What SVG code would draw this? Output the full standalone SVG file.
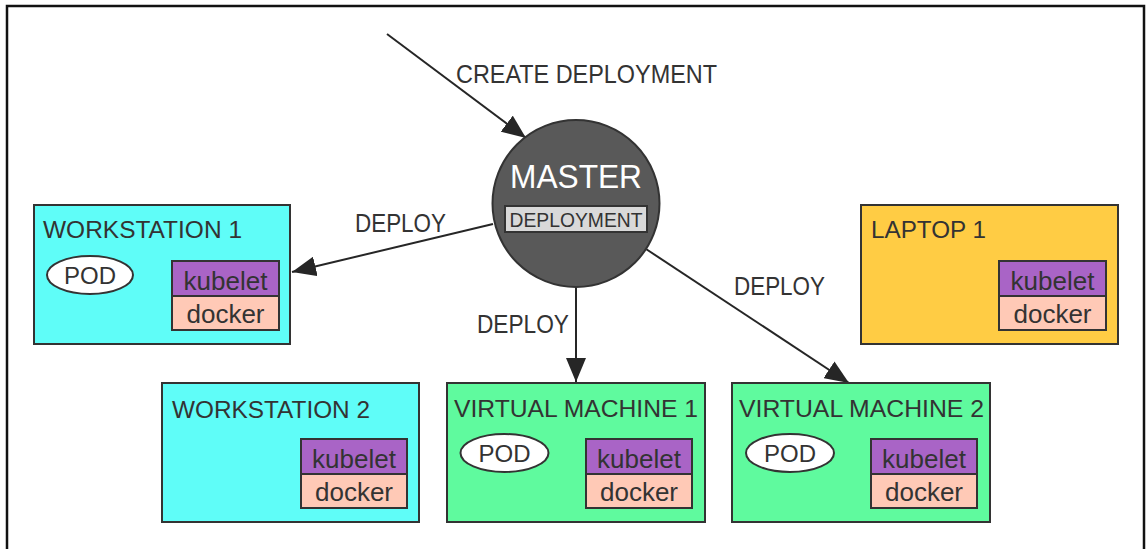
<svg xmlns="http://www.w3.org/2000/svg" width="1147" height="549" viewBox="0 0 1147 549">
  <defs>
    <marker id="arrow" markerUnits="userSpaceOnUse" viewBox="0 0 24 20" refX="24" refY="10" markerWidth="24" markerHeight="20" orient="auto">
      <path d="M0,0 L24,10 L0,20 Z" fill="#262626"/>
    </marker>
    <style>
      .t { font-family: "Liberation Sans", Arial, sans-serif; fill: #333333; }
      .title { font-size: 24px; }
      .lbl { font-size: 25px; }
      .box { stroke: #333333; stroke-width: 2; }
      .ws { fill: #5ffdf8; }
      .vm { fill: #5ffa9e; }
      .lap { fill: #ffcc44; }
      .kub { fill: #a964c6; stroke: #333333; stroke-width: 2; }
      .dock { fill: #ffc9b6; stroke: #333333; stroke-width: 2; }
      .pod { fill: #ffffff; stroke: #333333; stroke-width: 2; }
      .mid { font-size: 26px; text-anchor: middle; }
      .podt { font-size: 24px; text-anchor: middle; }
      .conn { stroke: #262626; stroke-width: 2; fill: none; marker-end: url(#arrow); }
    </style>
  </defs>
  <rect width="1147" height="549" fill="#ffffff"/>
  <path d="M7,549 L7,6 L1144,6 L1144,549" fill="none" stroke="#111111" stroke-width="2.5"/>

  <g id="connectors">
    <line class="conn" x1="387" y1="34" x2="526" y2="138"/>
    <line class="conn" x1="493" y1="224" x2="292" y2="272"/>
    <line class="conn" x1="576" y1="287" x2="576" y2="382"/>
    <line class="conn" x1="646" y1="249" x2="849" y2="383"/>
    <text class="t lbl" x="456" y="83" textLength="261" lengthAdjust="spacingAndGlyphs">CREATE DEPLOYMENT</text>
    <text class="t lbl" x="355" y="232" textLength="91" lengthAdjust="spacingAndGlyphs">DEPLOY</text>
    <text class="t lbl" x="477" y="333" textLength="92" lengthAdjust="spacingAndGlyphs">DEPLOY</text>
    <text class="t lbl" x="734" y="295" textLength="91" lengthAdjust="spacingAndGlyphs">DEPLOY</text>
  </g>

  <g id="master">
    <circle cx="576" cy="203.5" r="83.5" fill="#595959" stroke="#333333" stroke-width="2"/>
    <text x="576" y="188" font-family="Liberation Sans, Arial, sans-serif" font-size="33" fill="#ffffff" text-anchor="middle" textLength="132" lengthAdjust="spacingAndGlyphs">MASTER</text>
    <rect x="505" y="206" width="142" height="26" fill="#d9d9d9" stroke="#333333" stroke-width="2"/>
    <text class="t" x="576" y="227" font-size="21" text-anchor="middle" textLength="133" lengthAdjust="spacingAndGlyphs">DEPLOYMENT</text>
  </g>

  <g id="workstation1">
    <rect class="box ws" x="34" y="205" width="256" height="139"/>
    <text class="t title" x="43" y="238" textLength="199" lengthAdjust="spacingAndGlyphs">WORKSTATION 1</text>
    <ellipse class="pod" cx="90" cy="275" rx="43" ry="19"/>
    <text class="t podt" x="90" y="284">POD</text>
    <rect class="kub" x="172" y="261" width="107" height="35"/>
    <text class="t mid" x="225.5" y="290">kubelet</text>
    <rect class="dock" x="172" y="296" width="107" height="34"/>
    <text class="t mid" x="225.5" y="323">docker</text>
  </g>

  <g id="workstation2">
    <rect class="box ws" x="162" y="383" width="257" height="139"/>
    <text class="t title" x="172" y="418" textLength="198" lengthAdjust="spacingAndGlyphs">WORKSTATION 2</text>
    <rect class="kub" x="301" y="439" width="106" height="35"/>
    <text class="t mid" x="354" y="468">kubelet</text>
    <rect class="dock" x="301" y="474" width="106" height="34"/>
    <text class="t mid" x="354" y="501">docker</text>
  </g>

  <g id="vm1">
    <rect class="box vm" x="447" y="383" width="258" height="139"/>
    <text class="t title" x="454" y="417" textLength="244" lengthAdjust="spacingAndGlyphs">VIRTUAL MACHINE 1</text>
    <ellipse class="pod" cx="504.5" cy="453" rx="44" ry="19"/>
    <text class="t podt" x="504.5" y="462">POD</text>
    <rect class="kub" x="586" y="439" width="106" height="35"/>
    <text class="t mid" x="639" y="468">kubelet</text>
    <rect class="dock" x="586" y="474" width="106" height="34"/>
    <text class="t mid" x="639" y="501">docker</text>
  </g>

  <g id="vm2">
    <rect class="box vm" x="732" y="383" width="258" height="139"/>
    <text class="t title" x="739" y="417" textLength="245" lengthAdjust="spacingAndGlyphs">VIRTUAL MACHINE 2</text>
    <ellipse class="pod" cx="790" cy="453" rx="44" ry="19"/>
    <text class="t podt" x="790" y="462">POD</text>
    <rect class="kub" x="871" y="439" width="106" height="35"/>
    <text class="t mid" x="924" y="468">kubelet</text>
    <rect class="dock" x="871" y="474" width="106" height="34"/>
    <text class="t mid" x="924" y="501">docker</text>
  </g>

  <g id="laptop1">
    <rect class="box lap" x="861" y="205" width="257" height="139"/>
    <text class="t title" x="871" y="238" textLength="115" lengthAdjust="spacingAndGlyphs">LAPTOP 1</text>
    <rect class="kub" x="999" y="261" width="107" height="35"/>
    <text class="t mid" x="1052.5" y="290">kubelet</text>
    <rect class="dock" x="999" y="296" width="107" height="34"/>
    <text class="t mid" x="1052.5" y="323">docker</text>
  </g>
</svg>
